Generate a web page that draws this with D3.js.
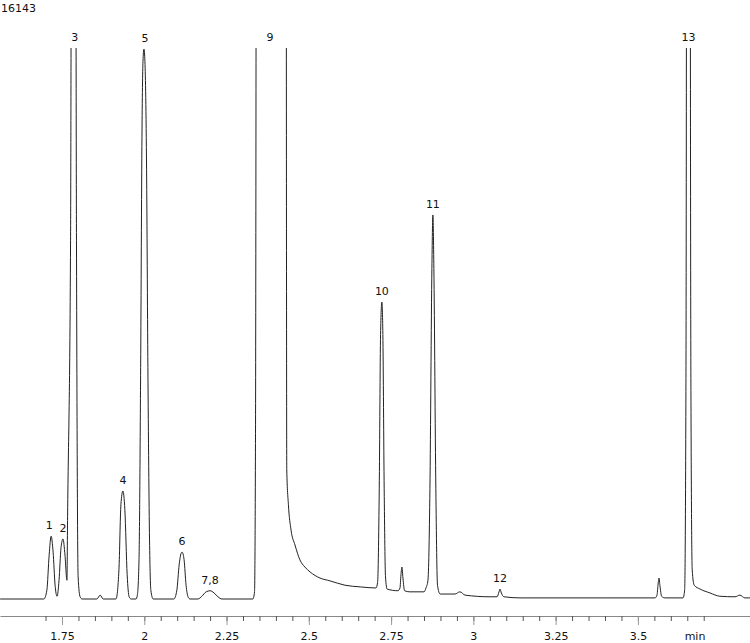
<!DOCTYPE html>
<html>
<head>
<meta charset="utf-8">
<script src="https://cdn.jsdelivr.net/npm/d3@7"></script>
<style>
  body { margin: 0; background: #fff; }
  svg { display: block; font-family: "DejaVu Sans", Verdana, sans-serif; }
</style>
</head>
<body>
<div id="chart"></div>
<script>
// trace: retention time (min) and detector signal (arbitrary units, 1000 = top of plot)
const traceTime = [
  1.562, 1.695, 1.704, 1.711, 1.717, 1.723, 1.729, 1.735, 1.741, 1.747, 1.753, 1.759, 1.765,
  1.767, 1.776, 1.785, 1.794, 1.799, 1.805, 1.811,
  1.856, 1.866, 1.875,
  1.914, 1.923, 1.929, 1.935, 1.941, 1.948, 1.954, 1.960,
  1.975, 1.979, 1.984, 1.989, 1.993, 1.996, 1.999, 2.002, 2.007, 2.011, 2.016, 2.020, 2.027,
  2.090, 2.099, 2.106, 2.112, 2.115, 2.121, 2.127, 2.133, 2.139,
  2.163, 2.175, 2.188, 2.200, 2.212, 2.224, 2.236,
  2.330, 2.335, 2.338, 2.343, 2.385, 2.430, 2.433, 2.438, 2.446, 2.458, 2.473, 2.488, 2.504,
  2.534, 2.564, 2.610, 2.656, 2.704,
  2.709, 2.714, 2.718, 2.722, 2.725, 2.729, 2.733, 2.738, 2.771,
  2.777, 2.780, 2.783, 2.786, 2.791, 2.807, 2.850,
  2.856, 2.862, 2.868, 2.874, 2.877, 2.880, 2.886, 2.891, 2.899,
  2.944, 2.959, 2.975, 3.051, 3.072, 3.078, 3.081, 3.085, 3.093, 3.142, 3.385,
  3.552, 3.558, 3.561, 3.564, 3.567, 3.572, 3.582,
  3.637, 3.642, 3.646, 3.653, 3.661, 3.665, 3.671, 3.689, 3.719, 3.749, 3.795, 3.810, 3.825, 3.841
];
const traceSignal = [
  0, 0, 16, 80, 114, 85, 25, 5, 34, 93, 109, 80, 34,
  150, 650, 4000, 650, 40, 4, 0,
  0, 7, 0,
  0, 53, 171, 196, 162, 44, 4, 0,
  0, 7, 71, 420, 840, 975, 998, 975, 780, 420, 107, 16, 0,
  0, 16, 62, 83, 85, 71, 25, 4, 0,
  0, 5, 13, 15, 11, 4, 0,
  0, 13, 300, 3000, 9000, 2500, 234, 171, 125, 98, 71, 58, 49,
  38, 33, 25, 22, 20,
  30, 200, 480, 539, 480, 200, 40, 18, 15,
  20, 44, 58, 38, 15, 13, 13,
  20, 34, 200, 600, 697, 600, 200, 25, 9,
  9, 13, 7, 4, 4, 13, 18, 11, 4, 2, 2,
  2, 7, 25, 38, 24, 5, 2,
  2, 16, 400, 5000, 400, 53, 25, 18, 11, 5, 4, 7, 2, 2
];

// peak annotations
const peakNames = ["1", "2", "3", "4", "5", "6", "7,8", "9", "10", "11", "12", "13"];
const peakTimes = [1.711, 1.753, 1.789, 1.935, 2.002, 2.115, 2.200, 2.382, 2.722, 2.877, 3.081, 3.654];
const peakHeights = [114, 109, 4000, 196, 998, 85, 15, 9000, 539, 697, 18, 5000];

// axis ticks
const majorTicks = [1.75, 2, 2.25, 2.5, 2.75, 3, 3.25, 3.5];
const minorTicks = d3.range(34, 75).map(i => i * 0.05);
const sampleId = "16143";
const timeUnit = "min";

const width = 750;
const height = 643;
const plotTop = 48;
const baseY = 599;
const axisY = 616;

const svg = d3.select("#chart")
  .append("svg")
  .attr("width", width)
  .attr("height", height);

const x = d3.scaleLinear().domain([1.5616, 3.8406]).range([0, width]);
const y = d3.scaleLinear().domain([0, 1000]).range([baseY, plotTop]);

// clip the off-scale peaks at the top of the plot
svg.append("defs").append("clipPath")
  .attr("id", "plot-clip")
  .append("rect")
  .attr("x", 0)
  .attr("y", plotTop)
  .attr("width", width)
  .attr("height", axisY - plotTop);

const trace = traceTime.map((t, i) => ({ t: t, v: traceSignal[i] }));

svg.append("path")
  .datum(trace)
  .attr("clip-path", "url(#plot-clip)")
  .attr("fill", "none")
  .attr("stroke", "#222")
  .attr("stroke-width", 1)
  .attr("d", d3.line()
    .x(d => x(d.t))
    .y(d => y(d.v))
    .curve(d3.curveMonotoneX));

// peak labels
svg.append("g")
  .selectAll("text")
  .data(peakNames)
  .enter()
  .append("text")
  .attr("x", (d, i) => x(peakTimes[i]))
  .attr("y", (d, i) => y(Math.min(peakHeights[i], 1000)) - 7)
  .attr("text-anchor", "middle")
  .attr("font-size", 11)
  .attr("fill", "#111")
  .text(d => d);

// minor ticks
svg.append("g")
  .attr("transform", `translate(0,${axisY})`)
  .call(d3.axisBottom(x).tickValues(minorTicks).tickSize(5).tickSizeOuter(0).tickFormat(""))
  .call(g => g.select(".domain").attr("stroke", "#888"))
  .call(g => g.selectAll(".tick line").attr("stroke", "#555"));

// major ticks with labels
svg.append("g")
  .attr("transform", `translate(0,${axisY})`)
  .call(d3.axisBottom(x).tickValues(majorTicks).tickSize(9).tickSizeOuter(0)
    .tickFormat(d => String(+d.toFixed(2))))
  .call(g => g.select(".domain").remove())
  .call(g => g.selectAll(".tick line").attr("stroke", "#999"))
  .call(g => g.selectAll(".tick text")
    .attr("y", 24)
    .attr("dy", 0)
    .attr("font-size", 11)
    .attr("font-family", "DejaVu Sans, Verdana, sans-serif")
    .attr("fill", "#111"));

svg.append("text")
  .attr("x", 695)
  .attr("y", axisY + 24)
  .attr("text-anchor", "middle")
  .attr("font-size", 11)
  .attr("fill", "#111")
  .text(timeUnit);

svg.append("text")
  .attr("x", 1)
  .attr("y", 12)
  .attr("font-size", 11)
  .attr("fill", "#111")
  .text(sampleId);
</script>
</body>
</html>
